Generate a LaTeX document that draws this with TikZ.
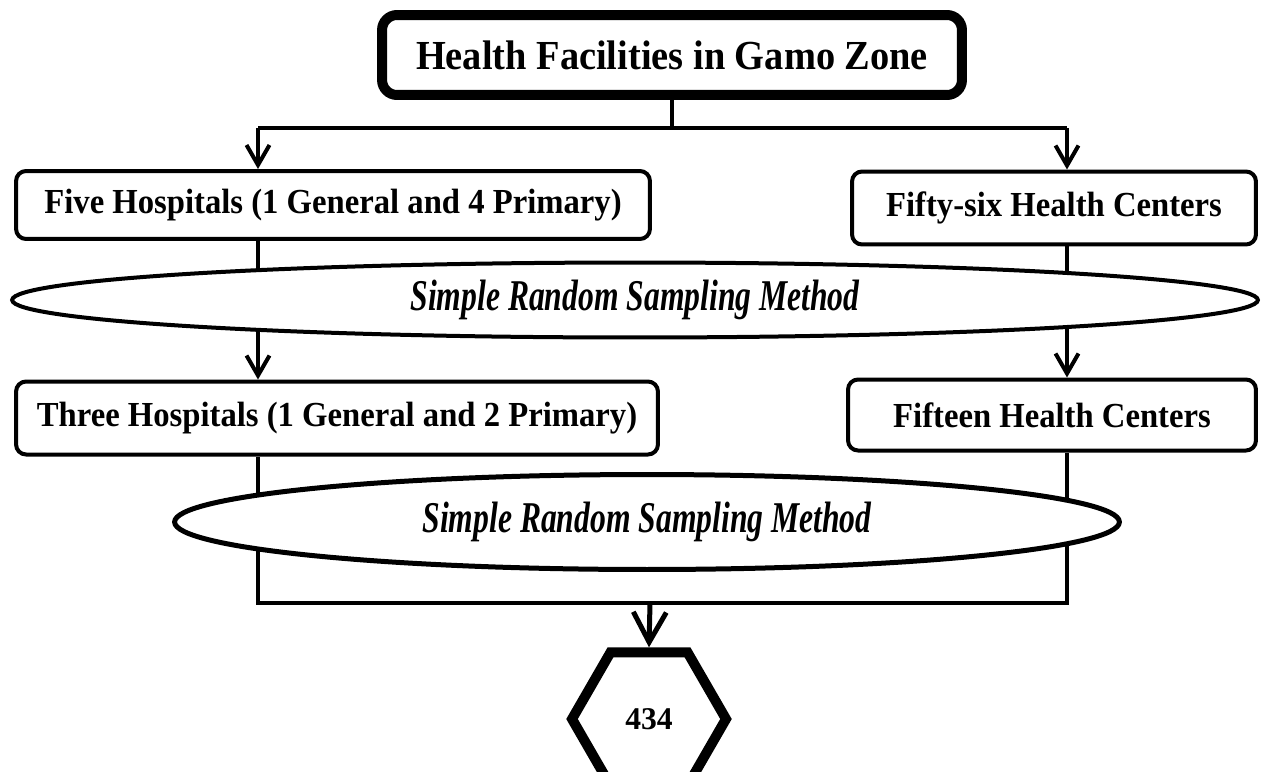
\documentclass[tikz,border=0pt]{standalone}
\usepackage{fontspec}
\setmainfont{Liberation Serif}
\newfontfamily\boxfont{Liberation Serif}[FakeStretch=0.93]
\newfontfamily\methodfont{Liberation Serif}[FakeStretch=0.72]
\usetikzlibrary{positioning, arrows.meta, shapes.geometric}

\begin{document}
\begin{tikzpicture}[x=0.02cm, y=-0.02cm,
    every node/.style={align=center},
    facility/.style={draw, fill=white, rounded corners=0.2cm, line width=0.08cm, font=\boxfont\bfseries\fontsize{20}{24}\selectfont},
    method/.style={draw, ellipse, fill=white, inner sep=0pt, line width=0.1cm, font=\methodfont\bfseries\itshape\fontsize{25}{30}\selectfont},
    link/.style={line width=0.08cm},
    >={Straight Barb[length=0.4cm, width=0.46cm]}]
    \useasboundingbox (0,0) rectangle (1264,771);

    \node[facility, line width=0.2cm, rounded corners=0.3cm, minimum width=11.6cm, minimum height=1.6cm, font=\boxfont\bfseries\fontsize{23.5}{28}\selectfont] (zone) at (672,55) {Health Facilities in Gamo Zone};
    \node[facility, minimum width=12.68cm, minimum height=1.36cm] (fivehosp) at (333,205) {Five Hospitals (1 General and 4 Primary)};
    \node[facility, minimum width=8.08cm, minimum height=1.46cm] (fiftyhc) at (1054,208) {Fifty-six Health Centers};
    \node[facility, minimum width=12.84cm, minimum height=1.46cm] (threehosp) at (337,418) {Three Hospitals (1 General and 2 Primary)};
    \node[facility, minimum width=8.16cm, minimum height=1.42cm] (fifteenhc) at (1052,415) {Fifteen Health Centers};
    \node[draw, regular polygon, regular polygon sides=6, minimum size=3.08cm, line width=0.2cm, font=\bfseries\fontsize{18}{20}\selectfont] (total) at (649,719) {434};

    \coordinate (split) at (672,128);
    \coordinate (splitl) at (258,128);
    \coordinate (splitr) at (1067,128);
    \coordinate (joinl) at (258,603);
    \coordinate (joinr) at (1067,603);
    \coordinate (join) at (650,603);

    \draw[link] (zone.south) -- (split);
    \draw[link] (splitl) -- (splitr);
    \draw[link, ->] (splitl) -- (splitl |- fivehosp.north);
    \draw[link, ->] (splitr) -- (splitr |- fiftyhc.north);
    \draw[link, ->] (splitl |- fivehosp.south) -- (splitl |- threehosp.north);
    \draw[link, ->] (splitr |- fiftyhc.south) -- (splitr |- fifteenhc.north);
    \draw[link] (splitl |- threehosp.south) -- (joinl) -- (joinr) -- (splitr |- fifteenhc.south);
    \draw[line width=0.1cm, -{Straight Barb[length=0.6cm, width=0.66cm]}] (join) -- (total.north);

    % sampling steps lie over the links
    \node[method, line width=0.08cm, minimum width=24.92cm, minimum height=1.5cm] (sampling1) at (635,300) {Simple Random Sampling Method};
    \node[method, minimum width=18.9cm, minimum height=1.9cm] (sampling2) at (647,522) {Simple Random Sampling Method};
\end{tikzpicture}
\end{document}
